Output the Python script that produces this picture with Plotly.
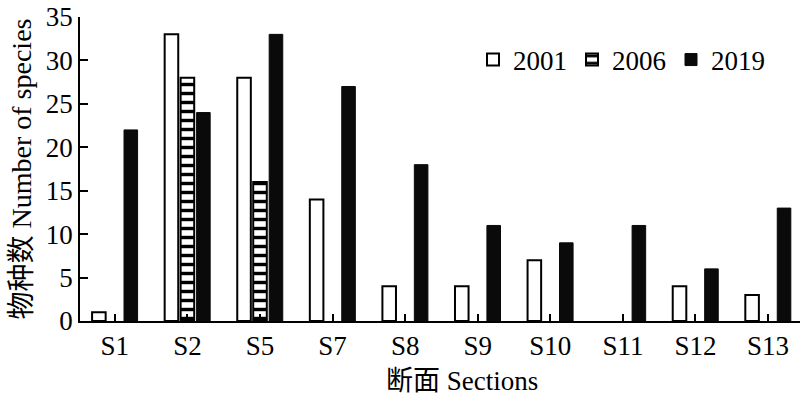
import plotly.graph_objects as go

categories = ["S1", "S2", "S5", "S7", "S8", "S9", "S10", "S11", "S12", "S13"]
y2001 = [1, 33, 28, 14, 4, 4, 7, None, 4, 3]
y2006 = [None, 28, 16, None, None, None, None, None, None, None]
y2019 = [22, 24, 33, 27, 18, 11, 9, 11, 6, 13]
yticks = [0, 5, 10, 15, 20, 25, 30, 35]

FONT = "Liberation Serif, Times New Roman, Noto Sans CJK SC, serif"
xpos = list(range(len(categories)))

W, H = 800, 396
ML, MR, MT, MB = 80, 0, 17, 75
PH = H - MT - MB

fig = go.Figure()
fig.add_trace(go.Bar(
    x=xpos, y=y2001, name="2001",
    marker=dict(color="white", line=dict(color="black", width=2)),
))
fig.add_trace(go.Bar(
    x=xpos, y=y2006, name="2006",
    marker=dict(color="white", line=dict(color="black", width=2),
                pattern=dict(shape="-", fgcolor="black", bgcolor="white",
                             size=9, solidity=0.38, fillmode="replace")),
))
fig.add_trace(go.Bar(
    x=xpos, y=y2019, name="2019",
    marker=dict(color="#0a0a0a", line=dict(color="#0a0a0a", width=1)),
))

fig.update_layout(
    width=W, height=H,
    margin=dict(l=ML, r=MR, t=MT, b=MB, autoexpand=False),
    paper_bgcolor="white", plot_bgcolor="white",
    barmode="group", bargap=0.34, bargroupgap=0.15,
    font=dict(family=FONT, size=27, color="black"),
    showlegend=True,
    legend=dict(orientation="h", x=(473 - ML) / (W - ML - MR), y=(H - MB - 60) / PH,
                xanchor="left", yanchor="middle",
                font=dict(family=FONT, size=27), bgcolor="rgba(0,0,0,0)",
                itemwidth=30, tracegroupgap=0),
    xaxis=dict(
        range=[-0.48, 9.44], tickvals=xpos, ticktext=categories,
        showline=True, linecolor="black", linewidth=1.5,
        ticks="inside", ticklen=7, tickcolor="black", tickwidth=1.5,
        showgrid=False, zeroline=False, automargin=False,
        tickfont=dict(family=FONT, size=27),
    ),
    yaxis=dict(
        range=[0, 35], tickvals=yticks,
        showline=True, linecolor="black", linewidth=1.5,
        ticks="inside", ticklen=8, tickcolor="black", tickwidth=1.5,
        showgrid=False, zeroline=False, automargin=False,
        tickfont=dict(family=FONT, size=27),
        title=dict(text="物种数 Number of species", font=dict(family=FONT, size=28), standoff=6),
    ),
    annotations=[dict(
        text="断面 Sections", x=(462 - ML) / (W - ML - MR), xref="paper",
        y=(H - MB - 381) / PH, yref="paper", yanchor="middle",
        showarrow=False, font=dict(family=FONT, size=27),
    )],
)

fig.write_html("out.html", config={"displayModeBar": False},
               post_script="document.body.style.margin='0';document.body.style.overflow='hidden';")
